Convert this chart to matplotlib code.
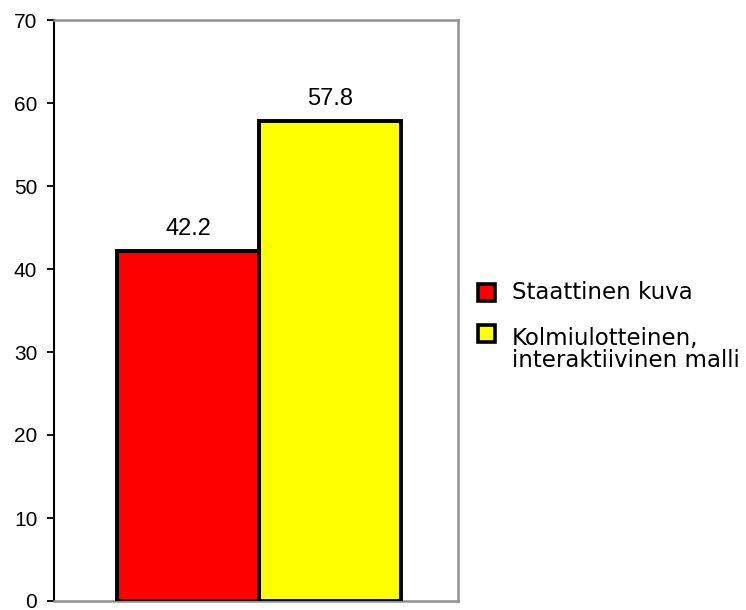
import matplotlib
matplotlib.use("Agg")
import matplotlib.pyplot as plt
from matplotlib.patches import Rectangle

categories = ["Staattinen kuva", "Kolmiulotteinen,\ninteraktiivinen malli"]
values = [42.2, 57.8]
colors = ["#ff0000", "#ffff00"]
yticks = [0, 10, 20, 30, 40, 50, 60, 70]

plt.rcParams['font.family'] = ['Liberation Sans', 'DejaVu Sans']

W, H = 746, 610
fig = plt.figure(figsize=(W/100, H/100), dpi=100)
ax = fig.add_axes([54/W, 1-601/H, (458-54)/W, (601-20)/H])

bars = ax.bar([0, 1], values, width=1.0, color=colors, edgecolor="black",
              linewidth=2.8, zorder=3)
for b, v in zip(bars, values):
    ax.text(b.get_x() + b.get_width()/2, v + 1.9, f"{v:.1f}", ha="center",
            va="baseline", fontsize=17)

ax.set_xlim(-0.944, 1.901)
ax.set_ylim(0, 70)
ax.set_yticks(yticks)
ax.set_yticklabels([str(t) for t in yticks], fontsize=15)
ax.set_xticks([])
ax.tick_params(axis='y', direction='out', length=5, width=1.3, pad=7, colors='black')
for s in ['top', 'right', 'bottom']:
    ax.spines[s].set_color('#909090')
    ax.spines[s].set_linewidth(1.8)
ax.spines['left'].set_color('black')
ax.spines['left'].set_linewidth(1.5)

# legend drawn in figure pixel coordinates
handle_centers = [292, 333]
first_baselines = [299, 345]
line_step = 22
for cat, col, hc, bl in zip(categories, colors, handle_centers, first_baselines):
    size = 17
    fig.patches.append(Rectangle(((486 - size/2)/W, 1 - (hc + size/2)/H), size/W, size/H,
                                 transform=fig.transFigure, facecolor=col,
                                 edgecolor='black', linewidth=2.6))
    for i, line in enumerate(cat.split("\n")):
        fig.text(512/W, 1 - (bl + i*line_step)/H, line, ha='left', va='baseline',
                 fontsize=16.5, family=['DejaVu Sans'])

fig.savefig("out.png", dpi=100)
